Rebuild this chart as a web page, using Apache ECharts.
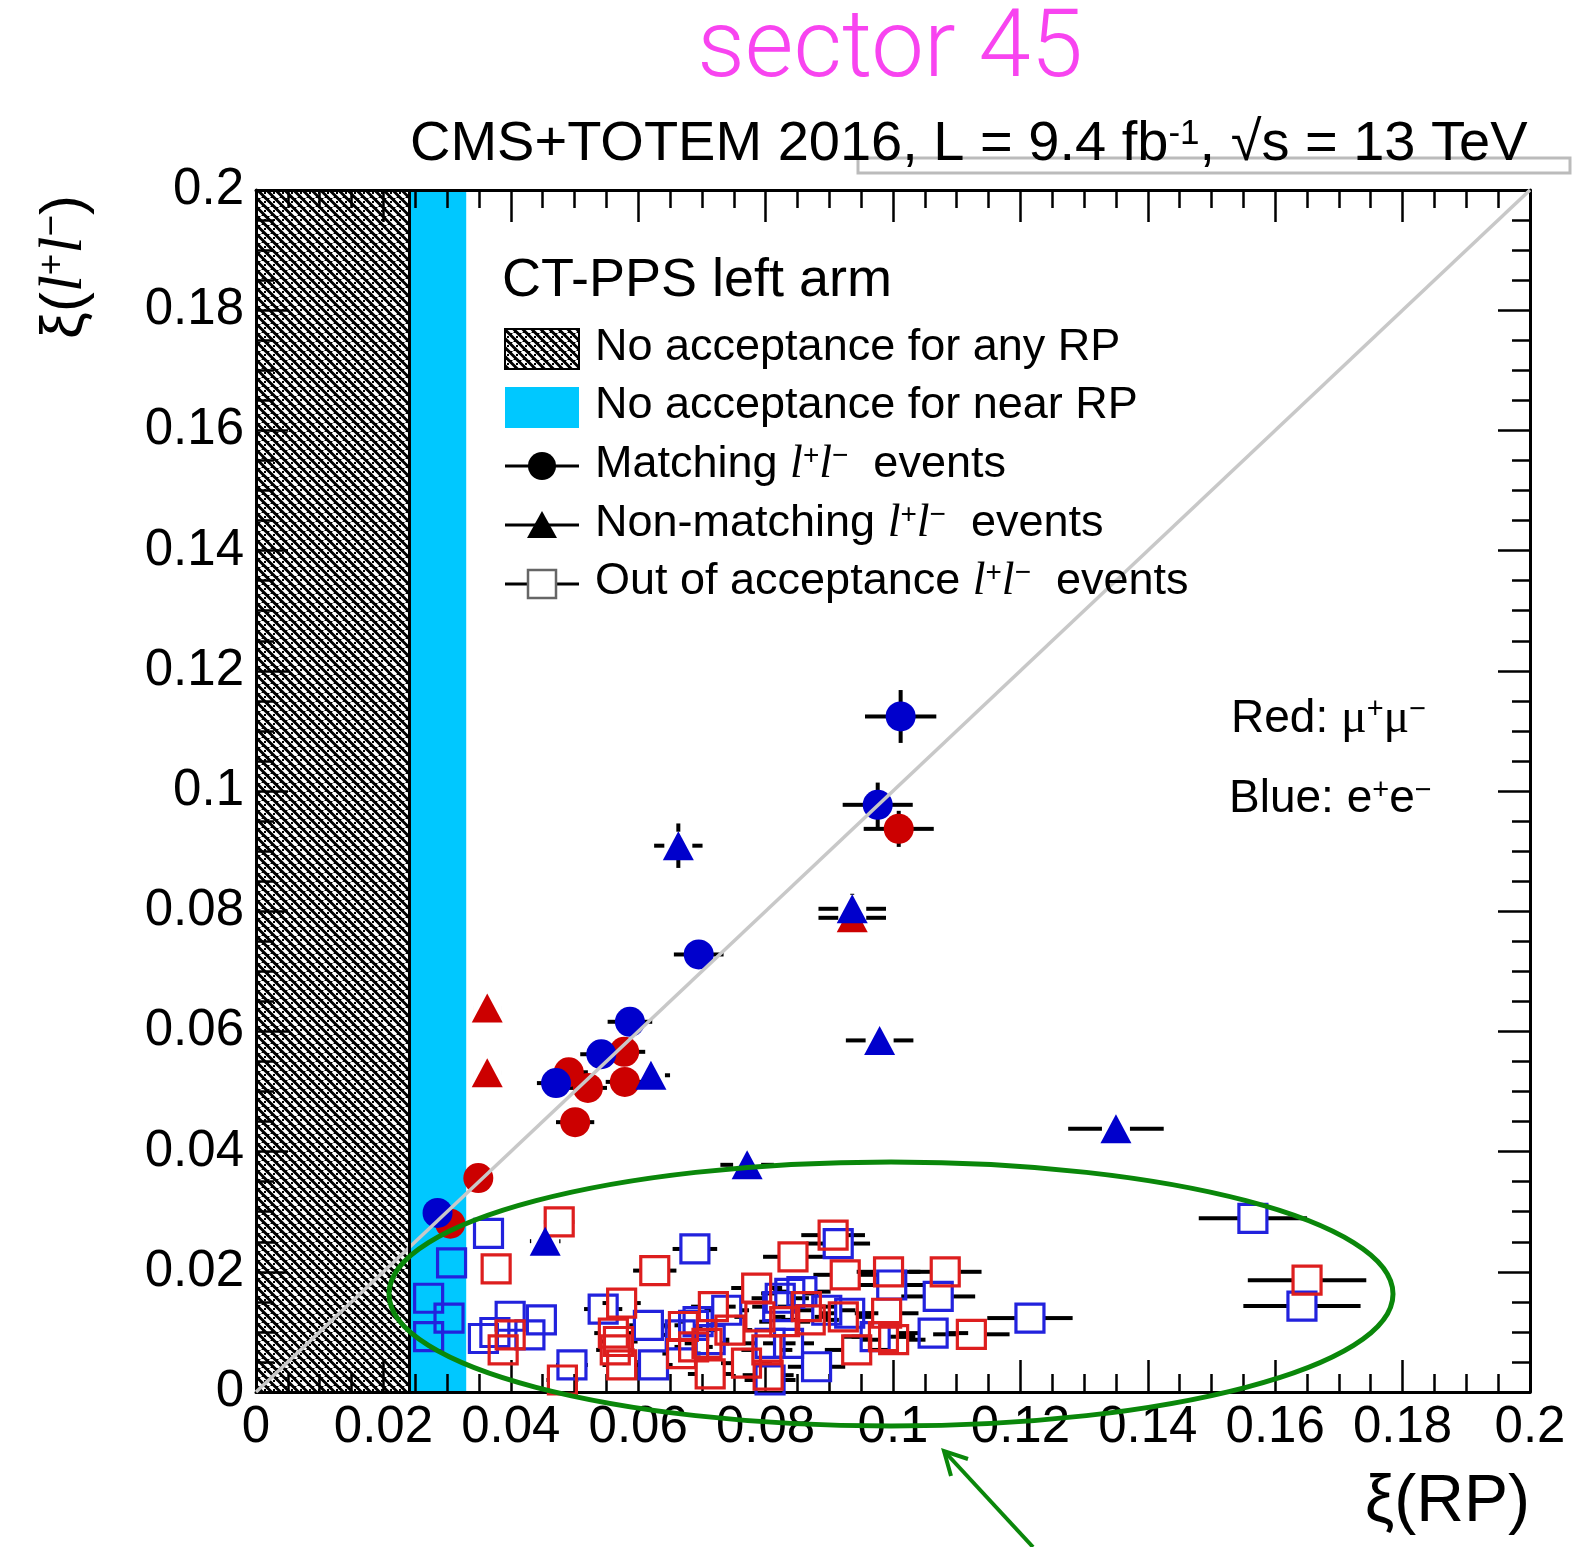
<!DOCTYPE html>
<html><head><meta charset="utf-8">
<script src="https://cdn.jsdelivr.net/npm/echarts@6.0.0/dist/echarts.min.js"></script>
<style>html,body{margin:0;padding:0;background:#fff}#c{width:1573px;height:1547px}</style>
</head><body><div id="c"></div>
<script>
// ---- data (x = xi(RP), y = xi(l+l-), xErr, yErr) ----
const axisTickLabels = ['0','0.02','0.04','0.06','0.08','0.1','0.12','0.14','0.16','0.18','0.2'];
const noAnyRP = [0, 0.024];      // hatched: no acceptance for any RP
const noNearRP = [0.024, 0.033]; // cyan: no acceptance for near RP

const blueMatching = [
  [0.1012,0.1124,0.0056,0.0044],[0.0976,0.0977,0.0055,0.0037],[0.0695,0.0728,0.0039,0.0015],
  [0.0587,0.0616,0.0035,0.0012],[0.0542,0.0562,0.0033,0.0010],[0.0471,0.0514,0.0030,0.0010],
  [0.0285,0.0298,0.0015,0.0008]
];
const redMatching = [
  [0.1009,0.0937,0.0055,0.0030],[0.0578,0.0566,0.0033,0.0010],[0.0491,0.0532,0.0030,0.0010],
  [0.0521,0.0506,0.0030,0.0010],[0.0579,0.0516,0.0030,0.0010],[0.0501,0.0449,0.0030,0.0010],
  [0.0349,0.0356,0.0015,0.0010],[0.0305,0.0280,0.0010,0.0008]
];
const blueNonMatching = [
  [0.0663,0.0909,0.0038,0.0037],[0.0936,0.0804,0.0053,0.0025],[0.0979,0.0585,0.0053,0.0010],
  [0.0620,0.0527,0.0030,0.0010],[0.1350,0.0438,0.0075,0.0010],[0.0771,0.0378,0.0042,0.0010],
  [0.0454,0.0251,0.0024,0.0010]
];
const redNonMatching = [
  [0.0363,0.0639,0.0022,0.0010],[0.0363,0.0531,0.0022,0.0010],[0.0936,0.0789,0.0053,0.0010]
];
const blueOutOfAcc = [
  [0.0365,0.0264,0.0020,0],[0.0307,0.0215,0.0010,0],[0.0271,0.0156,0.0010,0],[0.0303,0.0123,0.0010,0],
  [0.0271,0.0092,0.0010,0],[0.0357,0.0089,0.0015,0],[0.0375,0.0099,0.0015,0],[0.0399,0.0126,0.0020,0],
  [0.0448,0.0120,0.0020,0],[0.0430,0.0095,0.0020,0],[0.0496,0.0045,0.0025,0],[0.0545,0.0138,0.0030,0],
  [0.0689,0.0238,0.0035,0],[0.0616,0.0111,0.0030,0],[0.0624,0.0045,0.0030,0],[0.0687,0.0111,0.0030,0],
  [0.0694,0.0117,0.0030,0],[0.0739,0.0136,0.0035,0],[0.0713,0.0087,0.0030,0],[0.0914,0.0247,0.0050,0],
  [0.0838,0.0164,0.0045,0],[0.0857,0.0167,0.0045,0],[0.0823,0.0156,0.0045,0],[0.0819,0.0142,0.0040,0],
  [0.0896,0.0136,0.0045,0],[0.0932,0.0131,0.0045,0],[0.0972,0.0092,0.0050,0],[0.0807,0.0081,0.0040,0],
  [0.0836,0.0081,0.0040,0],[0.0880,0.0042,0.0045,0],[0.0807,0.0020,0.0040,0],[0.0998,0.0178,0.0050,0],
  [0.1071,0.0159,0.0058,0],[0.1063,0.0098,0.0055,0],[0.1215,0.0123,0.0067,0],[0.1565,0.0289,0.0085,0],
  [0.1642,0.0143,0.0092,0],[0.0666,0.0095,0.0030,0]
];
const redOutOfAcc = [
  [0.0476,0.0283,0.0024,0],[0.0377,0.0205,0.0015,0],[0.0388,0.0070,0.0020,0],[0.0399,0.0095,0.0020,0],
  [0.0481,0.0020,0.0025,0],[0.0574,0.0148,0.0030,0],[0.0626,0.0202,0.0034,0],[0.0561,0.0098,0.0030,0],
  [0.0569,0.0084,0.0030,0],[0.0564,0.0070,0.0030,0],[0.0574,0.0045,0.0030,0],[0.0671,0.0109,0.0030,0],
  [0.0668,0.0064,0.0030,0],[0.0687,0.0075,0.0030,0],[0.0718,0.0142,0.0035,0],[0.0713,0.0030,0.0035,0],
  [0.0708,0.0081,0.0035,0],[0.0744,0.0103,0.0035,0],[0.0906,0.0261,0.0050,0],[0.0843,0.0225,0.0047,0],
  [0.0925,0.0195,0.0050,0],[0.0993,0.0200,0.0050,0],[0.0786,0.0173,0.0040,0],[0.0791,0.0125,0.0040,0],
  [0.0922,0.0125,0.0045,0],[0.0870,0.0120,0.0045,0],[0.0830,0.0117,0.0040,0],[0.0864,0.0142,0.0045,0],
  [0.0985,0.0092,0.0050,0],[0.0943,0.0070,0.0050,0],[0.0802,0.0070,0.0040,0],[0.0804,0.0028,0.0040,0],
  [0.1082,0.0200,0.0057,0],[0.1123,0.0096,0.0060,0],[0.1001,0.0087,0.0050,0],[0.0990,0.0131,0.0050,0],
  [0.1650,0.0186,0.0093,0],[0.0770,0.0048,0.0040,0]
];

// ---- styling ----
const BLUE = '#0000cc', RED = '#cc0000', BLUE_SQ = '#2222dd', RED_SQ = '#dd1e1e';
const CYAN = '#00c8ff', GREEN = '#0a870a', MAGENTA = '#f844f0';
const FONT = '"Liberation Sans", Arial, Helvetica, sans-serif';

function hatchCanvas() {
  const c = document.createElement('canvas');
  c.width = 9; c.height = 9;
  const g = c.getContext('2d');
  g.fillStyle = '#000'; g.fillRect(0, 0, 9, 9);
  g.strokeStyle = '#fff'; g.lineWidth = 3.4;
  g.beginPath();
  for (let k = -9; k <= 9; k += 9) { g.moveTo(k, 0); g.lineTo(k + 9, 9); }
  g.stroke();
  g.fillStyle = '#000';
  g.fillRect(3, 3, 2, 2);
  return c;
}
const hatch = { image: hatchCanvas(), repeat: 'repeat' };

function errRender(gap) {
  return function (params, api) {
    const x = api.value(0), y = api.value(1), ex = api.value(2), ey = api.value(3);
    const c = api.coord([x, y]);
    const xl = api.coord([x - ex, y])[0], xr = api.coord([x + ex, y])[0];
    const yt = api.coord([x, y + ey])[1], yb = api.coord([x, y - ey])[1];
    const st = { stroke: '#000', lineWidth: 4 };
    const ch = [];
    if (c[0] - xl > gap) {
      ch.push({ type: 'line', shape: { x1: xl, y1: c[1], x2: c[0] - gap, y2: c[1] }, style: st });
      ch.push({ type: 'line', shape: { x1: c[0] + gap, y1: c[1], x2: xr, y2: c[1] }, style: st });
    }
    if (c[1] - yt > gap) {
      ch.push({ type: 'line', shape: { x1: c[0], y1: yt, x2: c[0], y2: c[1] - gap }, style: st });
      ch.push({ type: 'line', shape: { x1: c[0], y1: c[1] + gap, x2: c[0], y2: yb }, style: st });
    }
    return { type: 'group', children: ch };
  };
}
function errSeries(data, gap) {
  return { type: 'custom', data: data, renderItem: errRender(gap), encode: { x: 0, y: 1 },
           z: 3, silent: true, animation: false, clip: false };
}
function markerSeries(name, data, symbol, size, itemStyle) {
  return { name: name, type: 'scatter', data: data.map(d => [d[0], d[1]]), symbol: symbol,
           symbolSize: size, itemStyle: Object.assign({ opacity: 1 }, itemStyle), z: 4, silent: true, animation: false,
           emphasis: { disabled: true } };
}
function tickFmt(v) { const i = Math.round(v / 0.02); return axisTickLabels[i] !== undefined ? axisTickLabels[i] : ''; }

const baseAxis = {
  min: 0, max: 0.2, interval: 0.02, z: 3,
  axisLine: { show: true, onZero: false, lineStyle: { color: '#000', width: 3 } },
  axisTick: { show: true, inside: true, length: 32, lineStyle: { color: '#000', width: 2.5 } },
  minorTick: { show: true, splitNumber: 4, length: 18, lineStyle: { color: '#000', width: 2.5 } },
  splitLine: { show: false }, minorSplitLine: { show: false }
};

function richText(size) {
  return {
    it: { fontFamily: '"Liberation Serif", serif', fontStyle: 'italic', fontSize: Math.round(size * 1.02) },
    mu: { fontFamily: '"Liberation Serif", serif', fontSize: Math.round(size * 1.05) },
    sup: { fontFamily: FONT, fontSize: Math.round(size * 0.62), verticalAlign: 'top' }
  };
}
function txt(x, y, text, size, extra) {
  return Object.assign({ type: 'text', x: x, y: y, z: 50,
    style: { text: text, fontSize: size, fontFamily: FONT, fill: '#000', verticalAlign: 'middle', align: 'left', rich: richText(size) } }, extra || {});
}
const LL = '{it|l}{sup|+}{it|l}{sup|\u2212}';

const graphics = [
  // header texts
  { type: 'text', x: 890, y: 52, z: 50, style: { text: 'sector 45', fontSize: 94, fontFamily: 'Roboto, ' + FONT, fontWeight: 300, fill: MAGENTA, align: 'center', verticalAlign: 'middle' } },
  { type: 'rect', z: 40, shape: { x: 858, y: 158, width: 712, height: 15 }, style: { fill: 'none', stroke: '#bbbbbb', lineWidth: 3 } },
  txt(410, 145, 'CMS+TOTEM 2016, L = 9.4 fb{sup|-1}, \u221As = 13 TeV', 56),
  // axis titles
  { type: 'text', x: 1530, y: 1503, z: 50, style: { text: '\u03BE(RP)', fontSize: 66, fontFamily: FONT, fill: '#000', align: 'right', verticalAlign: 'middle' } },
  { type: 'text', x: 65, y: 267, rotation: Math.PI / 2, z: 50,
    style: { text: '\u03BE(' + LL + ')', fontSize: 60, fontFamily: FONT, fill: '#000', align: 'center', verticalAlign: 'middle', rich: richText(60) } },
  // legend
  txt(502, 281, 'CT-PPS left arm', 54),
  { type: 'rect', z: 50, shape: { x: 505, y: 329, width: 74, height: 40 }, style: { fill: hatch, stroke: '#000', lineWidth: 2 } },
  txt(595, 348, 'No acceptance for any RP', 45),
  { type: 'rect', z: 50, shape: { x: 505, y: 387, width: 74, height: 41 }, style: { fill: CYAN } },
  txt(595, 406, 'No acceptance for near RP', 45),
  { type: 'line', z: 50, shape: { x1: 505, y1: 466, x2: 579, y2: 466 }, style: { stroke: '#000', lineWidth: 3 } },
  { type: 'circle', z: 51, shape: { cx: 542, cy: 466, r: 14 }, style: { fill: '#000' } },
  txt(595, 465, 'Matching ' + LL + '  events', 45),
  { type: 'line', z: 50, shape: { x1: 505, y1: 525, x2: 579, y2: 525 }, style: { stroke: '#000', lineWidth: 3 } },
  { type: 'polygon', z: 51, shape: { points: [[542, 511], [557, 538], [527, 538]] }, style: { fill: '#000' } },
  txt(595, 524, 'Non-matching ' + LL + '  events', 45),
  { type: 'line', z: 50, shape: { x1: 505, y1: 584, x2: 579, y2: 584 }, style: { stroke: '#000', lineWidth: 3 } },
  { type: 'rect', z: 51, shape: { x: 528, y: 570, width: 28, height: 28 }, style: { fill: '#fff', stroke: '#666', lineWidth: 2.5 } },
  txt(595, 582, 'Out of acceptance ' + LL + '  events', 45),
  txt(1231, 719, 'Red: {mu|\u03BC}{sup|+}{mu|\u03BC}{sup|\u2212}', 46),
  txt(1229, 799, 'Blue: e{sup|+}e{sup|\u2212}', 46),
  // annotations
  { type: 'ellipse', z: 100, shape: { cx: 891, cy: 1294, rx: 502, ry: 132 }, style: { fill: 'none', stroke: GREEN, lineWidth: 5 } },
  { type: 'line', z: 100, shape: { x1: 1033, y1: 1547, x2: 945, y2: 1452 }, style: { stroke: GREEN, lineWidth: 4 } },
  { type: 'polyline', z: 100, shape: { points: [[951, 1476], [944, 1451], [968, 1459]] }, style: { fill: 'none', stroke: GREEN, lineWidth: 4 } }
];

const option = {
  backgroundColor: '#fff',
  animation: false,
  grid: { left: 256, right: 43, top: 190, bottom: 155, containLabel: false, outerBoundsMode: 'none' },
  xAxis: [
    Object.assign({}, baseAxis, { type: 'value', position: 'bottom',
      axisLabel: { show: true, formatter: tickFmt, fontSize: 51, fontFamily: FONT, color: '#000', margin: 10, showMinLabel: true, showMaxLabel: true } }),
    Object.assign({}, baseAxis, { type: 'value', position: 'top', axisLabel: { show: false } })
  ],
  yAxis: [
    Object.assign({}, baseAxis, { type: 'value', position: 'left',
      axisLabel: { show: true, formatter: tickFmt, fontSize: 51, fontFamily: FONT, color: '#000', margin: 12, showMinLabel: true, showMaxLabel: true } }),
    Object.assign({}, baseAxis, { type: 'value', position: 'right', axisLabel: { show: false } })
  ],
  series: [
    { name: 'regions', type: 'scatter', data: [], z: 1, silent: true,
      markArea: { silent: true, label: { show: false },
        data: [
          [{ coord: [noAnyRP[0], 0], itemStyle: { color: hatch, opacity: 1 } }, { coord: [noAnyRP[1], 0.2] }],
          [{ coord: [noNearRP[0], 0], itemStyle: { color: CYAN, opacity: 1 } }, { coord: [noNearRP[1], 0.2] }]
        ] } },
    { name: 'lines', type: 'scatter', data: [], z: 2, silent: true,
      markLine: { silent: true, symbol: ['none', 'none'], label: { show: false },
        data: [
          [{ coord: [0, 0], lineStyle: { color: '#c8c8c8', width: 3.5, type: 'solid', opacity: 1 } }, { coord: [0.2, 0.2] }],
          [{ coord: [noAnyRP[1], 0], lineStyle: { color: '#000', width: 3, type: 'solid', opacity: 1 } }, { coord: [noAnyRP[1], 0.2] }]
        ] } },
    errSeries(blueOutOfAcc, 15), errSeries(redOutOfAcc, 15),
    errSeries(blueMatching, 14), errSeries(redMatching, 14),
    errSeries(blueNonMatching, 14), errSeries(redNonMatching, 14),
    markerSeries('Out of acceptance (e+e-)', blueOutOfAcc, 'rect', 28, { color: 'rgba(0,0,0,0)', borderColor: BLUE_SQ, borderWidth: 3.2 }),
    markerSeries('Out of acceptance (mu+mu-)', redOutOfAcc, 'rect', 28, { color: 'rgba(0,0,0,0)', borderColor: RED_SQ, borderWidth: 3.2 }),
    markerSeries('Non-matching (mu+mu-)', redNonMatching, 'triangle', [31, 29], { color: RED }),
    markerSeries('Matching (mu+mu-)', redMatching, 'circle', 30, { color: RED }),
    markerSeries('Non-matching (e+e-)', blueNonMatching, 'triangle', [31, 29], { color: BLUE }),
    markerSeries('Matching (e+e-)', blueMatching, 'circle', 30, { color: BLUE })
  ],
  graphic: graphics
};

const chart = echarts.init(document.getElementById('c'), null, { renderer: 'canvas' });
chart.setOption(option);
</script>
</body></html>
